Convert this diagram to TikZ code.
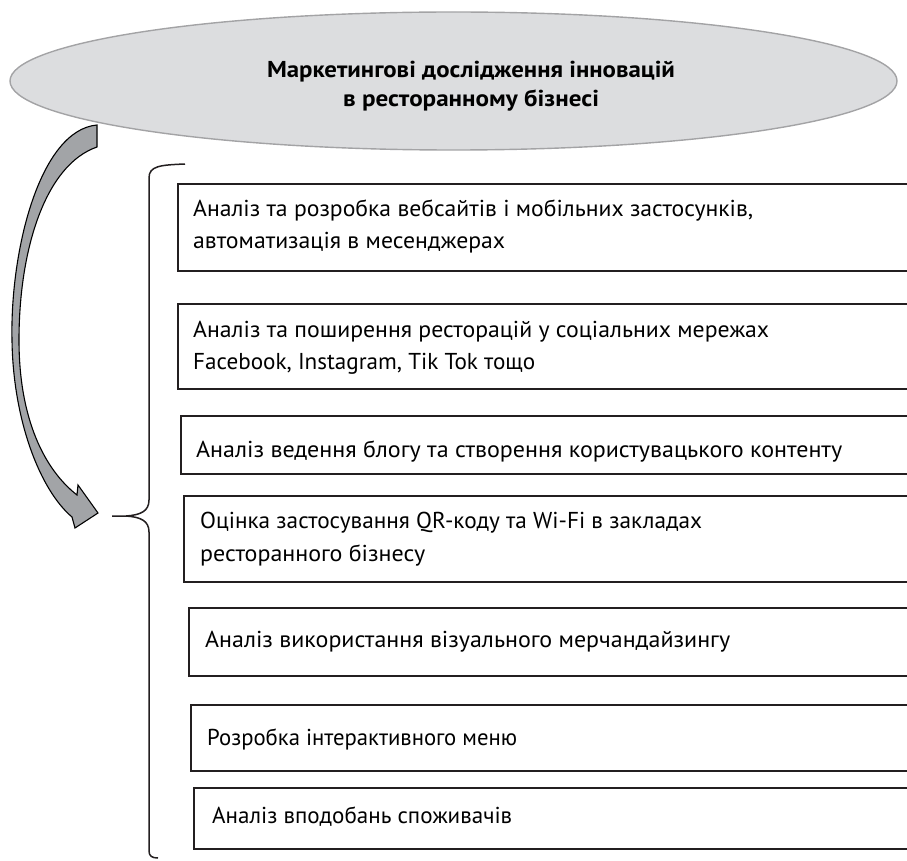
\documentclass[tikz,border=0pt]{standalone}
\usepackage{fontspec}
\setmainfont{PT Sans}
\usetikzlibrary{shapes.geometric}
\definecolor{ellfill}{HTML}{DCDDDF}
\definecolor{ellline}{HTML}{A3A3A5}
\definecolor{boxline}{HTML}{231F20}
\definecolor{arrfill}{HTML}{A2A4A7}
\newsavebox\fitbox
% set #2 on one line, stretched horizontally to the width #1 (in pt)
\newcommand\fitto[2]{\sbox\fitbox{#2}\pgfmathsetmacro\fitfac{#1/\the\wd\fitbox}\scalebox{\fitfac}[1]{\usebox\fitbox}}
\tikzset{
  itembox/.style={draw=boxline, line width=1.7pt, anchor=north west, minimum width=760pt,
    inner sep=0pt},
  itemtext/.style={anchor=base west, inner sep=0pt, font=\fontsize{23}{30}\selectfont},
  titlenode/.style={ellipse, draw=ellline, fill=ellfill, line width=1.4pt,
    minimum width=887pt, minimum height=138pt, inner sep=0pt},
  titletext/.style={anchor=base, inner sep=0pt, font=\fontsize{23}{30}\selectfont\bfseries},
}
\begin{document}
\begin{tikzpicture}[x=1pt,y=-1pt]
\useasboundingbox (0,0) rectangle (907,861);
\clip (0,0) rectangle (907,861);
% title ellipse
\node[titlenode] (title) at (453.5,81) {};
\node[titletext] (title1) at (471,78) {\fitto{408}{Маркетингові дослідження інновацій}};
\node[titletext] (title2) at (471,107) {\fitto{256}{в ресторанному бізнесі}};
% curved arrow
\draw[fill=arrfill, draw=black, line width=1.1pt, line join=miter]
  (97,125) .. controls (40,130) and (10,250) .. (12,340)
  .. controls (13,420) and (40,490) .. (72,517)
  -- (75,528) -- (98,513) -- (78,485) -- (77,495)
  .. controls (45,470) and (19,420) .. (19,340)
  .. controls (19,250) and (45,165) .. (97,147) -- cycle;
% brace
\draw[line width=1.5pt, draw=boxline]
  (185,164) .. controls (160,165) and (149,166) .. (149,178)
  -- (149,500) .. controls (149,511) and (141,515) .. (126,516) -- (112,516)
  -- (126,516) .. controls (141,517) and (149,521) .. (149,532)
  -- (149,851) .. controls (149,856) and (152,858) .. (158,858);
% item boxes
\node[itembox, minimum height=87pt] (b1) at (177,183) {};
\node[itembox, minimum height=85pt] (b2) at (177,303) {};
\node[itembox, minimum height=58pt] (b3) at (180,415) {};
\node[itembox, minimum height=86pt] (b4) at (183,495) {};
\node[itembox, minimum height=68pt] (b5) at (188,607) {};
\node[itembox, minimum height=66pt] (b6) at (190,704) {};
\node[itembox, minimum height=61pt] (b7) at (193,787) {};
% item texts
\node[itemtext] (t1a) at (193,216) {\fitto{560}{Аналіз та розробка вебсайтів і мобільних застосунків,}};
\node[itemtext] (t1b) at (193,248) {\fitto{312}{автоматизація в месенджерах}};
\node[itemtext] (t2a) at (193,337) {\fitto{576}{Аналіз та поширення ресторацій у соціальних мережах}};
\node[itemtext] (t2b) at (193,369) {\fitto{342}{Facebook, Instagram, Tik Tok тощо}};
\node[itemtext] (t3)  at (196,457) {\fitto{646}{Аналіз ведення блогу та створення користувацького контенту}};
\node[itemtext] (t4a) at (200,528) {\fitto{502}{Оцінка застосування QR-коду та Wi-Fi в закладах}};
\node[itemtext] (t4b) at (200,561) {\fitto{225}{ресторанного бізнесу}};
\node[itemtext] (t5)  at (205,647) {\fitto{525}{Аналіз використання візуального мерчандайзингу}};
\node[itemtext] (t6)  at (207,745) {\fitto{310}{Розробка інтерактивного меню}};
\node[itemtext] (t7)  at (212,823) {\fitto{300}{Аналіз вподобань споживачів}};
\end{tikzpicture}
\end{document}
